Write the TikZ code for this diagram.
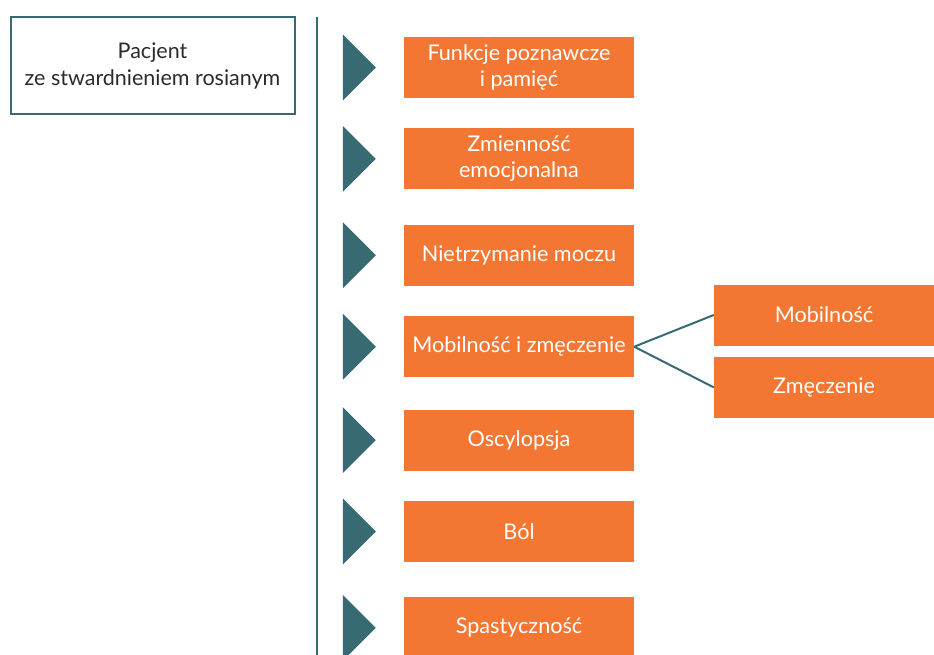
\documentclass[tikz,border=0pt]{standalone}
\usepackage{fontspec}
\setmainfont{Lato}
\usepackage{tikz}
\usetikzlibrary{positioning, calc}
\definecolor{smTeal}{HTML}{386A74}
\definecolor{smOrange}{HTML}{F37732}
\definecolor{smText}{HTML}{2B2B2B}
\tikzset{
  smbox/.style={
    draw=none, fill=smOrange, text=white, minimum width=230pt, minimum height=61pt,
    font=\fontsize{21.6}{26}\selectfont, align=center, inner sep=0pt
  },
  subbox/.style={smbox, minimum width=220pt},
  patient/.style={
    draw=smTeal, line width=2pt, fill=white, text=smText, minimum width=284pt,
    minimum height=97pt, font=\fontsize{21.5}{27}\selectfont, align=center
  },
  marker/.style={fill=smTeal},
  branch/.style={draw=smTeal, line width=2pt},
  spine/.style={draw=smTeal, line width=2pt}
}
\begin{document}
\begin{tikzpicture}[node distance=30pt]
  \useasboundingbox (0,0) rectangle (934pt,-655pt);
  \node[patient] (p) at (152.5pt,-66pt) {Pacjent\\ze stwardnieniem rosianym};
  \coordinate (top) at (317pt,-17pt);
  \coordinate (bot) at (317pt,-655pt);
  \draw[spine] (top) -- (bot);
  % categories
  \node[smbox] (a) at (519pt,-67.5pt) {Funkcje poznawcze\\i pamięć};
  \node[smbox, below=30pt of a] (b) {Zmienność\\emocjonalna};
  \node[smbox, below=35pt of b] (c) {Nietrzymanie moczu};
  \node[smbox, below=30pt of c] (d) {Mobilność i zmęczenie};
  \node[smbox, below=32pt of d] (e) {Oscylopsja};
  \node[smbox, below=30pt of e] (f) {Ból};
  \node[smbox, below=35pt of f] (g) {Spastyczność};
  \foreach \n in {a,b,c,d,e,f,g}
    \fill[marker] ($(\n.west)+(-61pt,33pt)$) -- ++(33pt,-33pt) -- ++(-33pt,-33pt) -- cycle;
  % sub-categories of d
  \node[subbox] (d1) at (824pt,-315pt) {Mobilność};
  \node[subbox, below=11pt of d1] (d2) {Zmęczenie};
  \draw[branch] (d.east) -- (d1.west);
  \draw[branch] (d.east) -- (d2.west);
\end{tikzpicture}
\end{document}
